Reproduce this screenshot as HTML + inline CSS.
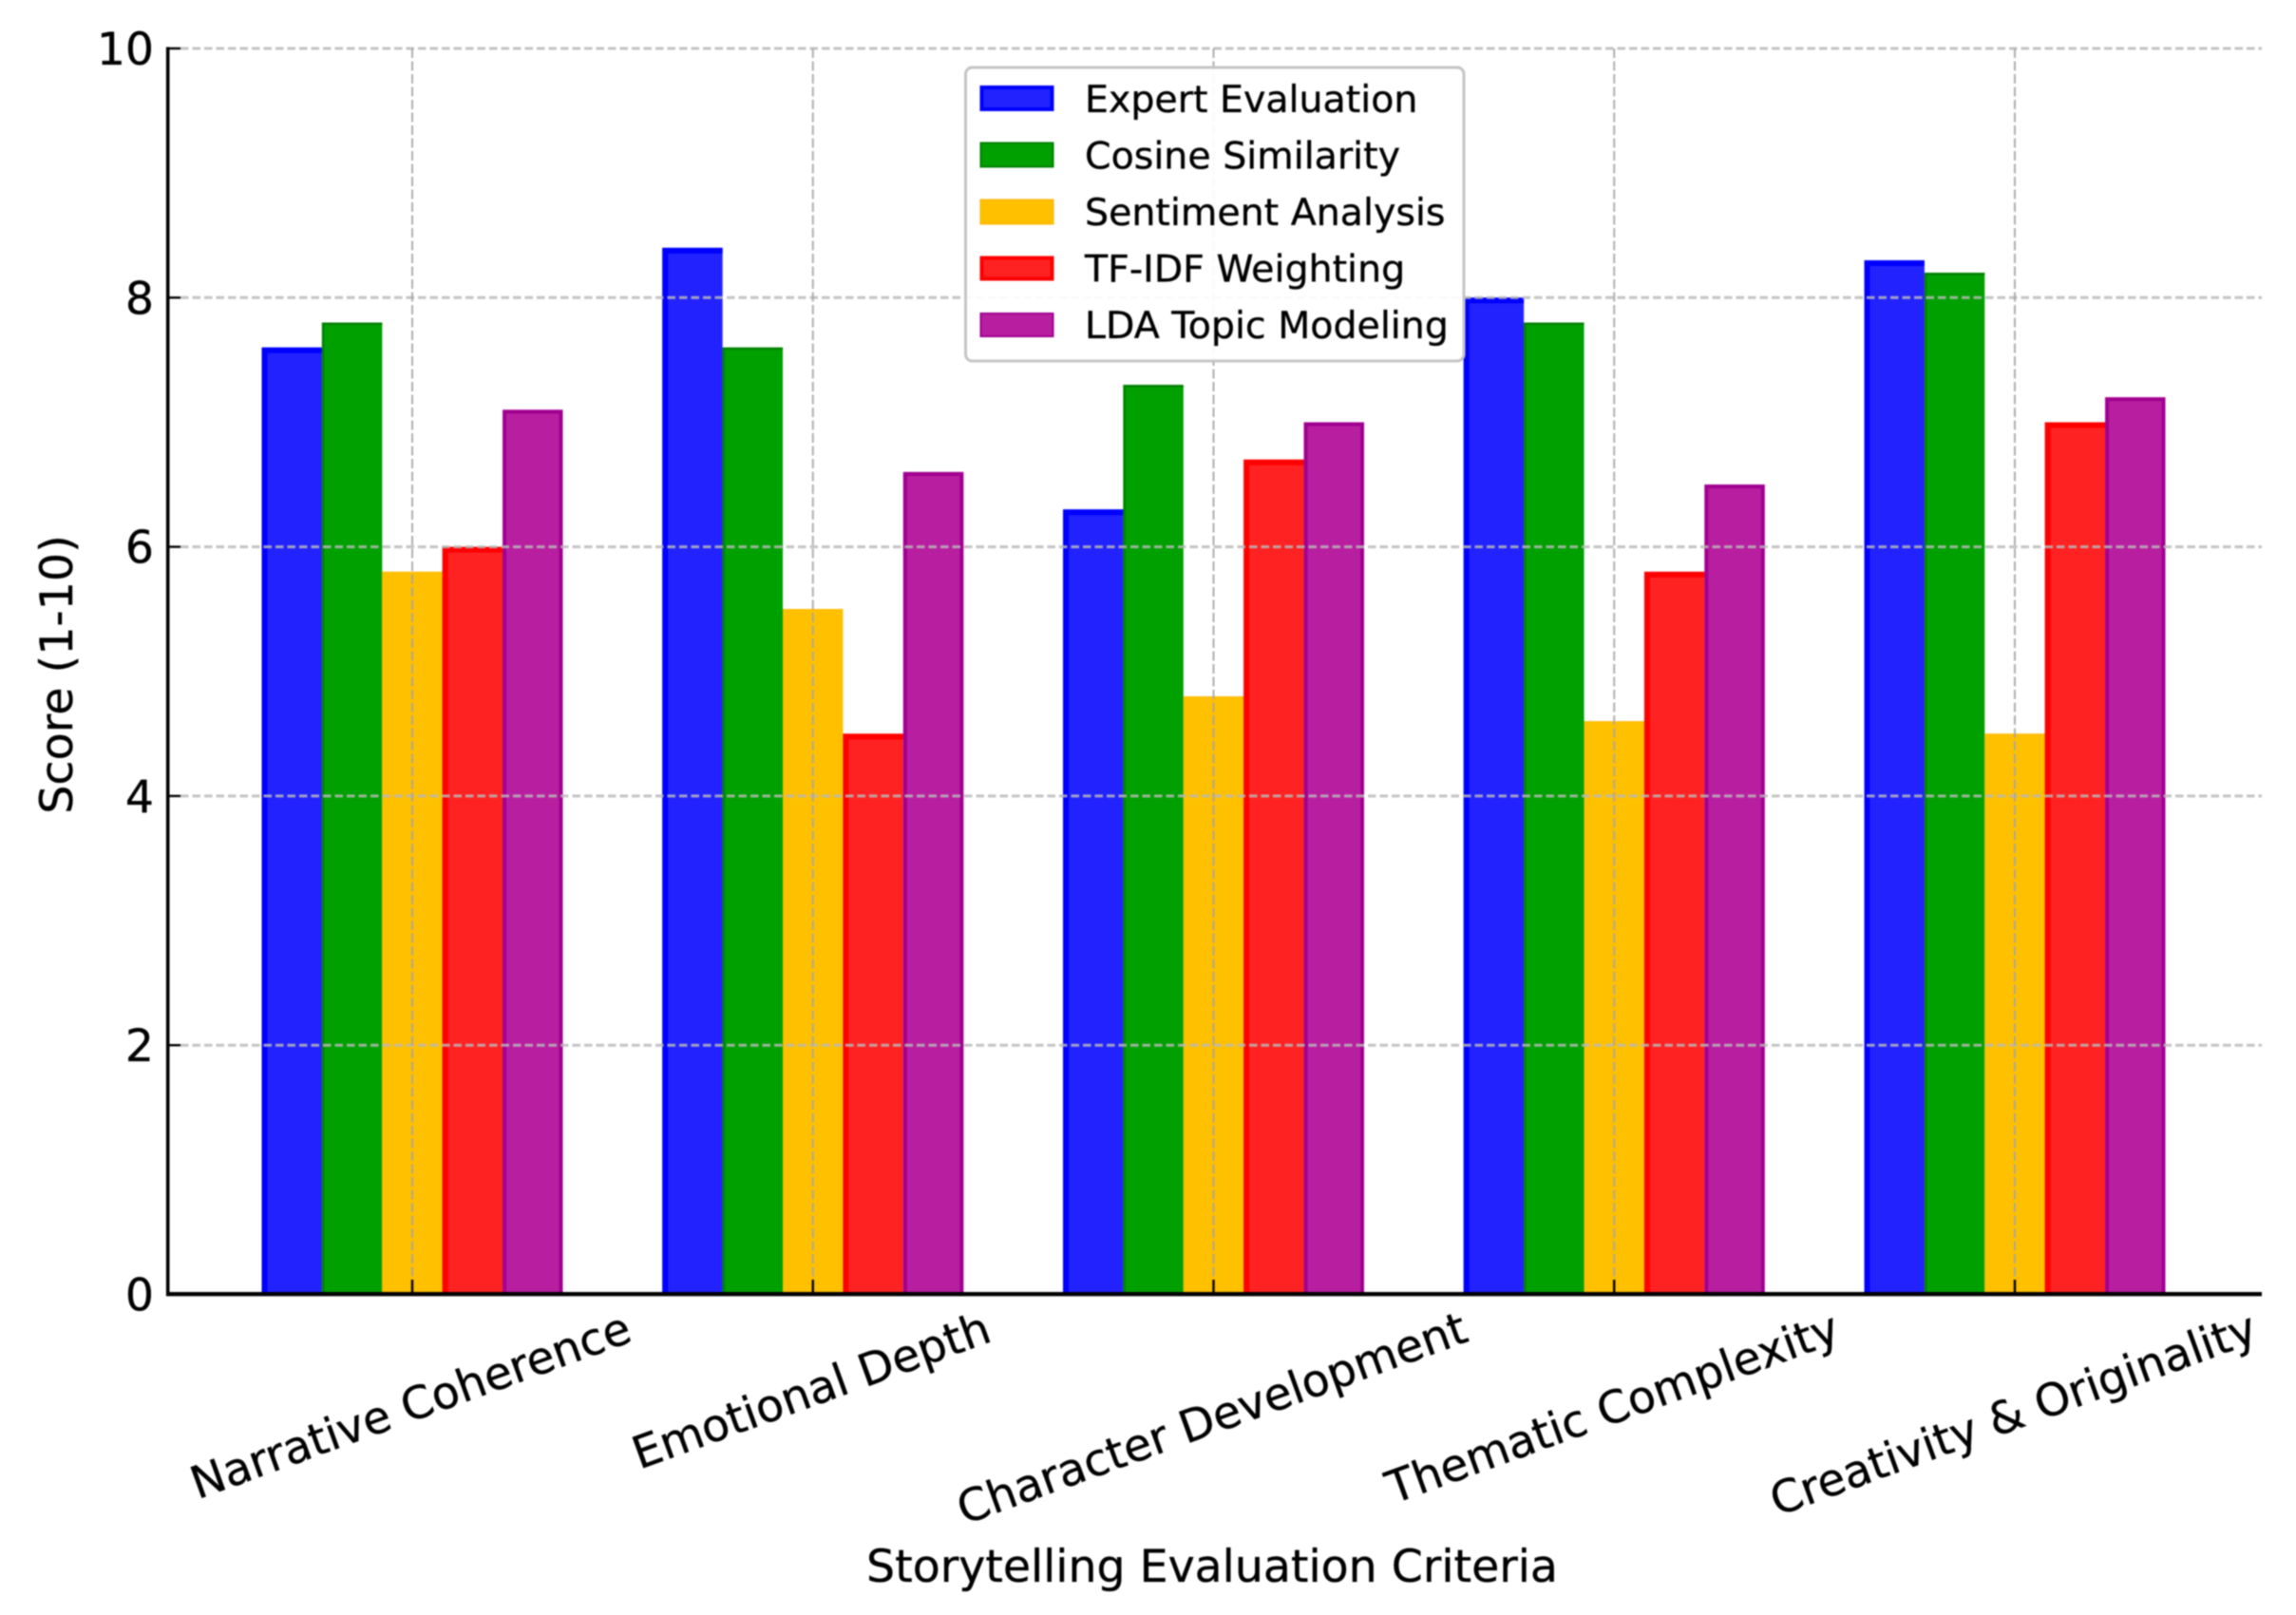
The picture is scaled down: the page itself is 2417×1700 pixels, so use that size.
<!DOCTYPE html>
<html lang="en">
<head>
<meta charset="utf-8">
<title>Storytelling Evaluation Criteria</title>
<style>
html,body{margin:0;padding:0;background:#fff;width:2417px;height:1700px;overflow:hidden}
svg{display:block;filter:blur(0.7px)}
text{font-family:"DejaVu Sans","Liberation Sans",sans-serif;fill:#000;stroke:#000;stroke-width:0.35px}
</style>
</head>
<body>
<svg id="chart" xmlns="http://www.w3.org/2000/svg" width="2417" height="1700" viewBox="0 0 2417 1700">
  <rect x="0" y="0" width="2417" height="1700" fill="#ffffff"/>
  <g id="bars"></g>
  <g id="grid"></g>
  <g id="ticks"></g>
  <line x1="176.7" y1="49.5" x2="176.7" y2="1364" stroke="#000" stroke-width="3.6"/>
  <line x1="175" y1="1362.2" x2="2381" y2="1362.2" stroke="#000" stroke-width="4.4"/>
  <g id="tick-labels"></g>
  <text transform="translate(76,710) rotate(-90)" text-anchor="middle" font-size="47.6">Score (1-10)</text>
  <text x="1276" y="1665" text-anchor="middle" font-size="47.4">Storytelling Evaluation Criteria</text>
  <g id="legend">
    <rect x="1016.5" y="71" width="524.5" height="309" rx="7" ry="7" fill="rgba(255,255,255,0.92)" stroke="#c4c4c4" stroke-width="3"/>
    <g>
      <rect x="1033.5" y="92" width="74" height="23" fill="#2222ff" stroke="#0000ff" stroke-width="4"/>
      <text x="1142" y="118" font-size="39.5">Expert Evaluation</text>
    </g>
    <g>
      <rect x="1032.5" y="150.5" width="76" height="25" fill="#00a000" stroke="#008000" stroke-width="2"/>
      <text x="1142" y="177.5" font-size="39.5">Cosine Similarity</text>
    </g>
    <g>
      <rect x="1032" y="210" width="77" height="26" fill="#ffc000" stroke="#ffb000" stroke-width="1"/>
      <text x="1142" y="237" font-size="39.5">Sentiment Analysis</text>
    </g>
    <g>
      <rect x="1033.5" y="271.5" width="74" height="22" fill="#ff2222" stroke="#ff0000" stroke-width="4"/>
      <text x="1142" y="296.5" font-size="39.5">TF-IDF Weighting</text>
    </g>
    <g>
      <rect x="1032.5" y="330" width="76" height="24" fill="#b81fa0" stroke="#a0008f" stroke-width="2"/>
      <text x="1142" y="356" font-size="39.5">LDA Topic Modeling</text>
    </g>
  </g>
</svg>
<script>
const categories = ["Narrative Coherence", "Emotional Depth", "Character Development", "Thematic Complexity", "Creativity & Originality"];
const seriesNames = ["expert-evaluation", "cosine-similarity", "sentiment-analysis", "tf-idf-weighting", "lda-topic-modeling"];
const expertEvaluation = [7.6, 8.4, 6.3, 8.0, 8.3];
const cosineSimilarity = [7.8, 7.6, 7.3, 7.8, 8.2];
const sentimentAnalysis = [5.8, 5.5, 4.8, 4.6, 4.5];
const tfIdfWeighting = [6.0, 4.5, 6.7, 5.8, 7.0];
const ldaTopicModeling = [7.1, 6.6, 7.0, 6.5, 7.2];
const yTicks = [0, 2, 4, 6, 8, 10];

const seriesValues = [expertEvaluation, cosineSimilarity, sentimentAnalysis, tfIdfWeighting, ldaTopicModeling];
const seriesFill = ["#2222ff", "#00a000", "#ffc000", "#ff2222", "#b81fa0"];
const seriesEdge = ["#0000ff", "#008000", "#ffb800", "#ff0000", "#a0008f"];
const seriesEdgeWidth = [6, 2.5, 1, 6, 4];

const NS = "http://www.w3.org/2000/svg";
const plotBottom = 1362.5, unitHeight = 131.15;
const firstCenter = 434, groupStep = 421.75, barWidth = 63.4;
const xTickLabelTop = 1373, xTickFont = 47.3, angleDeg = 20;

function yScale(v) { return plotBottom - v * unitHeight; }
function xCenter(i) { return firstCenter + i * groupStep; }
function barLeft(i, s) { return xCenter(i) + (s - seriesValues.length / 2) * barWidth; }
function make(tag, attrs) {
  const el = document.createElementNS(NS, tag);
  for (const k in attrs) el.setAttribute(k, attrs[k]);
  return el;
}

const barsG = document.getElementById("bars");
const gridG = document.getElementById("grid");
const ticksG = document.getElementById("ticks");
const labelsG = document.getElementById("tick-labels");

seriesValues.forEach(function (vals, s) {
  const isLast = s === seriesValues.length - 1;
  vals.forEach(function (v, i) {
    const ew = seriesEdgeWidth[s];
    const left = barLeft(i, s);
    const top = yScale(v);
    const fillRect = make("rect", {
      x: left,
      y: top,
      width: barWidth,
      height: plotBottom - top,
      fill: seriesFill[s]
    });
    
    
    barsG.appendChild(fillRect);
    let d = "M" + (left + ew / 2) + "," + plotBottom + " V" + (top + ew / 2);
    if (isLast) {
      d += " H" + (left + barWidth - ew / 2) + " V" + plotBottom;
    } else {
      d += " H" + (left + barWidth);
    }
    const edge = make("path", { d: d, fill: "none", stroke: seriesEdge[s], "stroke-width": ew });
    
    
    barsG.appendChild(edge);
  });
});

yTicks.forEach(function (t) {
  const y = yScale(t);
  if (t > 0) {
    const g = make("line", { x1: 190, y1: y, x2: 2381, y2: y, stroke: "rgba(185,185,185,0.85)", "stroke-width": 3, "stroke-dasharray": "8.5 4" });
    
    
    gridG.appendChild(g);
  }
  const tick = make("line", { x1: 177, y1: y, x2: 190, y2: y, stroke: "#000", "stroke-width": 2.4 });
  
  
  ticksG.appendChild(tick);
  const lab = make("text", { x: 162, y: y + 17, "text-anchor": "end", "font-size": 47.3 });
  
  
  lab.textContent = String(t);
  labelsG.appendChild(lab);
});

categories.forEach(function (c, i) {
  const x = xCenter(i);
  const g = make("line", { x1: x, y1: yScale(10), x2: x, y2: 1347, stroke: "rgba(165,165,165,0.9)", "stroke-width": 2, "stroke-dasharray": "10 3.5" });
  
  
  gridG.appendChild(g);
  const tick = make("line", { x1: x, y1: 1347, x2: x, y2: 1362, stroke: "#000", "stroke-width": 2.4 });
  
  
  ticksG.appendChild(tick);
  const lab = make("text", { "text-anchor": "middle", "font-size": xTickFont, x: 0, y: 0 });
  
  
  lab.textContent = c;
  labelsG.appendChild(lab);
  const L = lab.getComputedTextLength();
  const a = angleDeg * Math.PI / 180;
  const H = xTickFont * 1.0;
  const cy = xTickLabelTop + (L * Math.sin(a) + H * Math.cos(a)) / 2;
  lab.setAttribute("transform", "translate(" + (x - 2) + "," + cy + ") rotate(" + (-angleDeg) + ")");
  lab.setAttribute("y", xTickFont * 0.36);
});
</script>
</body>
</html>
